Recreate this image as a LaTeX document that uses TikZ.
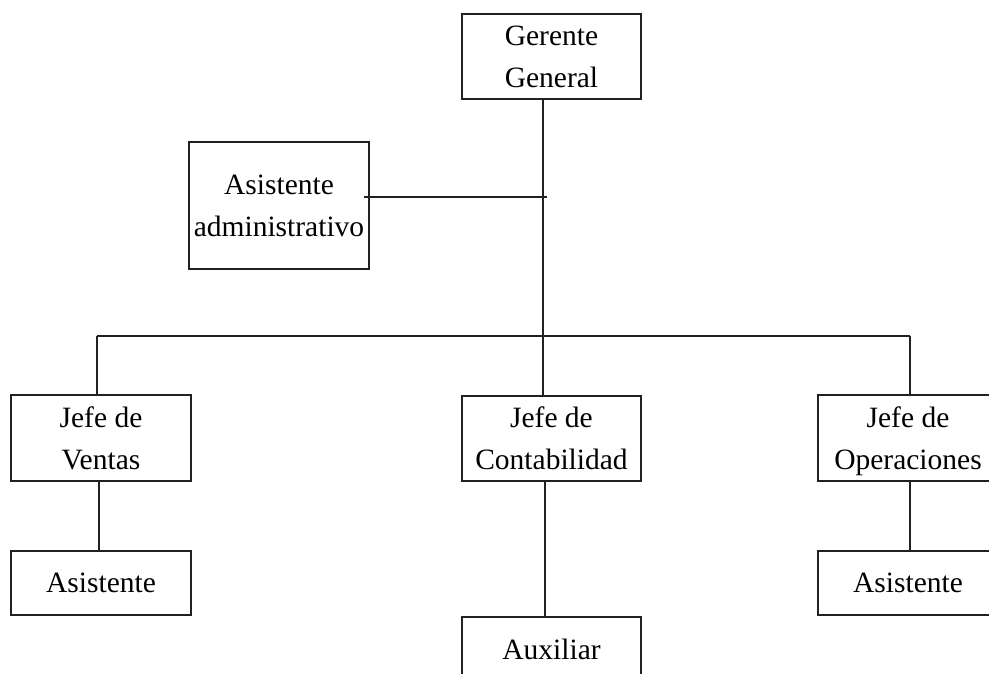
\documentclass[tikz,border=0pt]{standalone}
\usepackage{fontspec}
\setmainfont{Liberation Serif}
\begin{document}
\begin{tikzpicture}[x=1pt,y=-1pt,
  box/.style={draw=black!87, line width=1.6pt, rectangle, inner sep=0pt, align=center,
    text depth=0pt, font=\fontsize{29.5}{42}\selectfont},
  conn/.style={draw=black!87, line width=1.6pt}]
\clip (0,0) rectangle (989,674);
\useasboundingbox (0,0) rectangle (989,674);
\node[box, minimum width=179pt, minimum height=85pt] (ger) at (551.5,56.5) {Gerente\\General};
\node[box, minimum width=180pt, minimum height=127pt] (adm) at (279,205.5) {Asistente\\administrativo};
\node[box, minimum width=180pt, minimum height=86pt] (ven) at (101,438) {Jefe de\\Ventas};
\node[box, minimum width=180pt, minimum height=64pt] (asl) at (101,583) {Asistente};
\node[box, minimum width=179pt, minimum height=85pt] (con) at (551.5,438.5) {Jefe de\\Contabilidad};
\node[box, minimum width=179pt, minimum height=64pt] (aux) at (551.5,649) {Auxiliar};
\node[box, minimum width=180pt, minimum height=86pt] (ope) at (908,438) {Jefe de\\Operaciones};
\node[box, minimum width=180pt, minimum height=64pt] (asr) at (908,583) {Asistente};
\coordinate (bL) at (97,336);
\coordinate (bC) at (543,336);
\coordinate (bR) at (910,336);
\coordinate (admj) at (547,197);
\draw[conn] (bL) -- (bR);
\draw[conn] (ger.south -| bC) -- (bC) -- (con.north -| bC);
\draw[conn] (bL) -- (ven.north -| bL);
\draw[conn] (bR) -- (ope.north -| bR);
\draw[conn] ([xshift=-6pt]adm.east |- admj) -- (admj);
\draw[conn] ([xshift=-2pt]ven.south) -- ([xshift=-2pt]asl.north);
\draw[conn] ([xshift=-6.5pt]con.south) -- ([xshift=-6.5pt]aux.north);
\draw[conn] ([xshift=2pt]ope.south) -- ([xshift=2pt]asr.north);
\end{tikzpicture}
\end{document}
